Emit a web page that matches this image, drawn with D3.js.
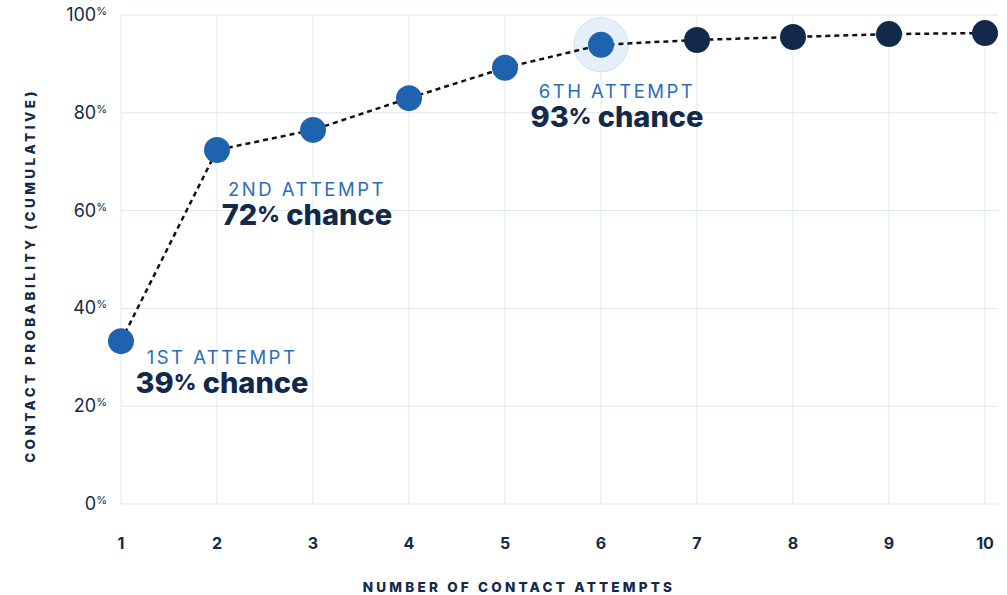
<!DOCTYPE html>
<html>
<head>
<meta charset="utf-8">
<script src="https://d3js.org/d3.v7.min.js"></script>
<style>
  body { margin: 0; background: #fff; }
  text { font-family: Inter, "Noto Sans", sans-serif; }
</style>
</head>
<body>
<svg id="chart" width="1007" height="595"></svg>
<script>
// data
const attempts = [1, 2, 3, 4, 5, 6, 7, 8, 9, 10];
const probability = [33.3, 72.4, 76.5, 83.0, 89.2, 93.9, 94.9, 95.5, 96.1, 96.3];
const yTicks = [0, 20, 40, 60, 80, 100];
const calloutAttempts = [1, 2, 6];
const calloutTitles = ["1ST ATTEMPT", "2ND ATTEMPT", "6TH ATTEMPT"];
const calloutChances = ["39%", "72%", "93%"];
const highlightAttempt = 6;

const margin = {top: 15, right: 22, bottom: 91, left: 121};
const width = 1007 - margin.left - margin.right;
const height = 595 - margin.top - margin.bottom;

const navy = "#13294b", blue = "#1f63ae", grid = "#d7e8ef";

const svg = d3.select("#chart");
const g = svg.append("g").attr("transform", "translate(" + margin.left + "," + margin.top + ")");

const x = d3.scaleLinear().domain([1, 10]).range([0, width]);
const y = d3.scaleLinear().domain([0, 100]).range([height, 0]);

// grid
g.selectAll(".hgrid").data(yTicks).enter().append("line")
  .attr("x1", 0).attr("x2", width + 13)
  .attr("y1", d => y(d)).attr("y2", d => y(d))
  .attr("stroke", grid).attr("stroke-width", 1);
g.selectAll(".vgrid").data(attempts).enter().append("line")
  .attr("x1", d => x(d)).attr("x2", d => x(d))
  .attr("y1", y(100)).attr("y2", y(0))
  .attr("stroke", "#dfe8ee").attr("stroke-width", 1);

// y tick labels with small raised %
const yl = g.selectAll(".ylab").data(yTicks).enter().append("text")
  .attr("x", -14).attr("y", d => y(d) + 6)
  .attr("text-anchor", "end")
  .attr("fill", navy).attr("font-size", 18);
yl.append("tspan").text(d => d);
yl.append("tspan").text("%").attr("font-size", 11).attr("dy", -6);

// x tick labels
g.selectAll(".xlab").data(attempts).enter().append("text")
  .attr("x", d => x(d)).attr("y", height + 45)
  .attr("text-anchor", "middle").attr("fill", navy)
  .attr("font-size", 16).attr("font-weight", 700)
  .text(d => d);

// axis titles
svg.append("text")
  .attr("transform", "translate(35," + (margin.top + height / 2 + 16) + ") rotate(-90)")
  .attr("text-anchor", "middle").attr("fill", navy)
  .attr("font-size", 13.5).attr("font-weight", 800).attr("letter-spacing", 3.4)
  .text("CONTACT PROBABILITY (CUMULATIVE)");
svg.append("text")
  .attr("x", 519).attr("y", 592)
  .attr("text-anchor", "middle").attr("fill", navy)
  .attr("font-size", 13.5).attr("font-weight", 800).attr("letter-spacing", 3.2)
  .text("NUMBER OF CONTACT ATTEMPTS");

const points = attempts.map((a, i) => ({a: a, v: probability[i]}));

// halo on highlighted attempt
const hp = points.find(p => p.a === highlightAttempt);
g.append("circle")
  .attr("cx", x(hp.a)).attr("cy", y(hp.v)).attr("r", 27)
  .attr("fill", "#e5eff9").attr("stroke", "#cfe0f0").attr("stroke-width", 1);

// dashed line
g.append("path").datum(points)
  .attr("d", d3.line().x(d => x(d.a)).y(d => y(d.v)))
  .attr("fill", "none").attr("stroke", "#111").attr("stroke-width", 2.5)
  .attr("stroke-dasharray", "5,4");

// dots
g.selectAll(".dot").data(points).enter().append("circle")
  .attr("cx", d => x(d.a)).attr("cy", d => y(d.v)).attr("r", 13)
  .attr("fill", d => d.a <= highlightAttempt ? blue : navy);

// callouts
const offsets = [[101, 23], [90, 46], [16, 53]];
calloutAttempts.forEach((a, i) => {
  const p = points.find(q => q.a === a);
  const cx = x(a) + offsets[i][0], cy = y(p.v) + offsets[i][1];
  g.append("text")
    .attr("x", cx).attr("y", cy)
    .attr("text-anchor", "middle").attr("fill", "#2a6dbb")
    .attr("font-size", 18.5).attr("letter-spacing", 2.5)
    .text(calloutTitles[i]);
  const t = g.append("text")
    .attr("x", cx).attr("y", cy + 29)
    .attr("text-anchor", "middle").attr("fill", navy)
    .attr("font-size", 29).attr("font-weight", 800);
  t.append("tspan").text(calloutChances[i].replace("%", ""));
  t.append("tspan").text("%").attr("font-size", 22).attr("dy", -3);
  t.append("tspan").text(" chance").attr("dy", 3);
});
</script>
</body>
</html>
